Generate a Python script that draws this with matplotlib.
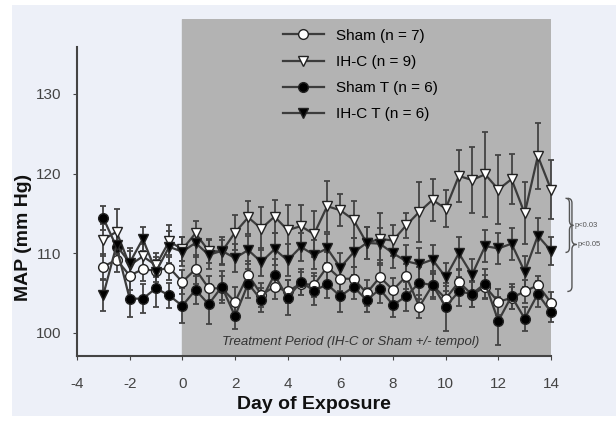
import matplotlib.pyplot as plt
import numpy as np
from matplotlib.patches import Rectangle, PathPatch
from matplotlib.path import Path

plt.rcParams['font.family'] = ['Liberation Sans', 'DejaVu Sans']
plt.rcParams['axes.unicode_minus'] = False

# 数据 (day of exposure, half-day steps)
days = np.arange(-3, 14.5, 0.5)

sham = [108.3, 109.2, 107.2, 108.0, 107.8, 108.2, 106.4, 108.0, 105.6, 105.6,
        103.9, 107.3, 104.8, 105.8, 105.2, 106.2, 106.0, 108.3, 106.8, 106.8,
        105.0, 107.0, 105.4, 107.1, 103.3, 106.0, 104.3, 106.4, 104.8, 105.8,
        103.9, 104.4, 105.2, 106.0, 103.8]
sham_err = [1.6, 1.5, 1.8, 1.5, 1.4, 1.6, 1.5, 1.8, 1.6, 1.5,
            1.8, 1.7, 1.5, 1.6, 1.5, 1.4, 1.5, 1.8, 1.6, 1.5,
            1.6, 1.8, 1.5, 1.6, 1.4, 1.5, 1.6, 1.5, 1.6, 1.5,
            1.6, 1.4, 1.5, 1.2, 1.3]

ihc = [111.7, 112.7, 108.5, 109.6, 108.5, 111.5, 110.5, 112.5, 110.3, 110.2,
       112.6, 114.5, 113.1, 114.6, 112.9, 113.4, 112.4, 115.9, 115.4, 114.2,
       111.3, 111.8, 111.6, 113.5, 115.2, 116.7, 115.6, 119.7, 119.2, 119.9,
       118.0, 119.3, 115.0, 122.2, 118.0]
ihc_err = [2.0, 2.8, 1.8, 1.5, 1.5, 2.0, 1.5, 1.5, 1.5, 1.5,
           2.2, 2.1, 2.7, 2.1, 3.2, 2.6, 2.9, 3.2, 2.0, 2.3,
           2.0, 3.3, 2.0, 1.6, 3.8, 2.6, 2.3, 3.3, 4.1, 5.3,
           4.3, 3.1, 3.9, 4.1, 3.7]

sham_t = [114.4, 110.8, 104.3, 104.3, 105.6, 104.7, 103.4, 105.4, 103.6, 105.8,
          102.1, 106.2, 104.1, 107.3, 104.4, 106.4, 105.3, 106.1, 104.6, 105.8,
          104.1, 105.5, 103.5, 104.6, 106.3, 106.0, 103.3, 105.2, 104.9, 106.2,
          101.5, 104.6, 101.8, 104.9, 102.6]
sham_t_err = [1.5, 1.8, 2.3, 1.8, 2.4, 1.6, 2.2, 1.8, 2.5, 2.0,
              1.6, 1.8, 1.5, 2.0, 2.2, 1.6, 1.8, 1.7, 2.0, 1.5,
              1.5, 1.7, 1.5, 1.8, 2.0, 1.8, 3.0, 1.8, 1.6, 1.8,
              3.0, 1.6, 1.5, 1.6, 1.2]

ihc_t = [104.8, 111.0, 108.8, 111.8, 107.7, 110.8, 110.2, 111.3, 109.8, 110.3,
         109.4, 110.4, 108.9, 110.5, 109.1, 110.8, 109.8, 110.6, 108.2, 110.1,
         111.3, 111.2, 110.0, 109.0, 108.6, 109.2, 107.0, 110.0, 107.3, 110.9,
         110.6, 111.2, 107.7, 112.2, 110.3]
ihc_t_err = [2.0, 2.0, 1.8, 1.5, 1.8, 2.0, 1.8, 1.8, 1.8, 1.8,
             1.8, 1.8, 1.8, 2.0, 2.0, 1.8, 1.8, 1.8, 1.8, 1.8,
             2.0, 2.0, 1.8, 2.0, 2.0, 1.8, 1.8, 2.0, 2.0, 2.0,
             2.0, 2.0, 2.0, 2.2, 1.8]

labels = ['Sham (n = 7)', 'IH-C (n = 9)', 'Sham T (n = 6)', 'IH-C T (n = 6)']

fig = plt.figure(figsize=(6.16, 4.26), dpi=100)
fig.patch.set_facecolor('white')
fig.add_artist(Rectangle((12 / 616, 10 / 426), 604 / 616, 411 / 426,
                         transform=fig.transFigure, facecolor='#edf0f8',
                         edgecolor='none', zorder=-10))

ax = fig.add_axes([0.125, 0.1643, 0.7695, 0.791])
ax.set_facecolor('none')
ax.set_xlim(-4, 14)
ax.set_ylim(97.1, 139.4)

# 处理期阴影
ax.axvspan(0, 14, color='#b3b3b3', zorder=0)

line_c = '#3c3c3c'
series = [
    (sham, sham_err, 'o', 'white', labels[0]),
    (ihc, ihc_err, 'v', 'white', labels[1]),
    (sham_t, sham_t_err, 'o', 'black', labels[2]),
    (ihc_t, ihc_t_err, 'v', 'black', labels[3]),
]
for vals, err, mk, fc, lab in series:
    ax.errorbar(days, vals, yerr=err, fmt='none', ecolor='#444444',
                elinewidth=1.3, capsize=2.5, capthick=1.3, zorder=2, clip_on=False)
    ax.plot(days, vals, color=line_c, linewidth=1.6, marker=mk,
            markersize=7 if mk == 'o' else 7.5, markerfacecolor=fc,
            markeredgecolor='#222222', markeredgewidth=1.0, label=lab,
            zorder=3, clip_on=False)

ax.text(6.4, 98.8, 'Treatment Period (IH-C or Sham +/- tempol)', style='italic',
        fontsize=9.5, color='#333333', ha='center', va='center')

# 显著性括号
def brace(x0, y0, y1, w, ym):
    xm = x0 + w / 2
    d = 0.6
    verts = [(x0, y1), (xm, y1), (xm, y1 - d), (xm, ym + d), (xm, ym), (x0 + w, ym),
             (xm, ym), (xm, ym - d), (xm, y0 + d), (xm, y0), (x0, y0)]
    codes = [Path.MOVETO, Path.CURVE3, Path.CURVE3, Path.LINETO, Path.CURVE3, Path.CURVE3,
             Path.CURVE3, Path.CURVE3, Path.LINETO, Path.CURVE3, Path.CURVE3]
    ax.add_patch(PathPatch(Path(verts, codes), facecolor='none', edgecolor='#555555',
                           linewidth=1.0, clip_on=False))

brace(14.55, 110.1, 116.9, 0.3, 113.5)
brace(14.62, 105.2, 116.9, 0.35, 111.1)
ax.text(14.9, 113.5, 'p<0.03', fontsize=5.5, color='#555555', va='center', clip_on=False)
ax.text(15.0, 111.1, 'p<0.05', fontsize=5.5, color='#555555', va='center', clip_on=False)

for s in ['top', 'right']:
    ax.spines[s].set_visible(False)
ax.spines['left'].set_bounds(97.1, 135.9)
for s in ['left', 'bottom']:
    ax.spines[s].set_color('#444444')
    ax.spines[s].set_linewidth(1.5)

ax.set_xticks(np.arange(-4, 15, 2))
ax.set_yticks([100, 110, 120, 130])
ax.tick_params(axis='x', length=3, pad=12, labelsize=11, colors='#444444')
ax.tick_params(axis='y', length=3, pad=8, labelsize=11, colors='#444444')

ax.set_xlabel('Day of Exposure', fontsize=14, fontweight='bold', color='#111111', labelpad=4)
ax.set_ylabel('MAP (mm Hg)', fontsize=14, fontweight='bold', color='#111111')
ax.yaxis.set_label_coords(-0.095, 0.353)

ax.legend(loc='upper left', bbox_to_anchor=(275 / 616, 1 - 21 / 426),
          bbox_transform=fig.transFigure, frameon=False, fontsize=11,
          handlelength=2.7, handletextpad=0.8, labelspacing=0.8, borderpad=0)

plt.savefig('out.png', dpi=100)
